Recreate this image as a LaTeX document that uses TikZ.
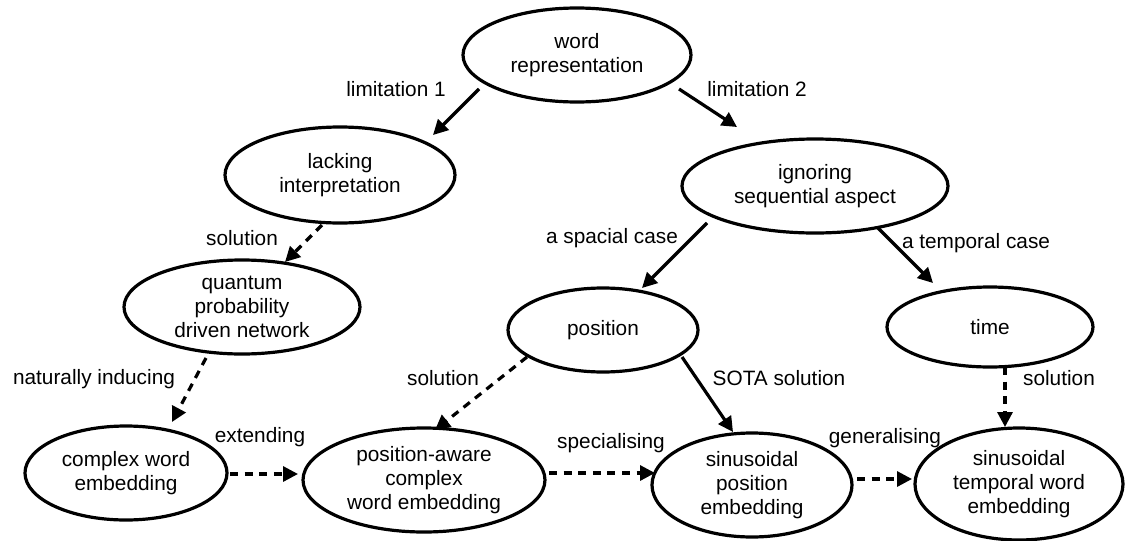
\documentclass[tikz,border=0pt]{standalone}
\usepackage{fontspec}
\setmainfont{Liberation Sans}
\usetikzlibrary{shapes.geometric,arrows.meta}
\begin{document}
\begin{tikzpicture}[x=0.5pt,y=-0.5pt,
  every node/.style={font=\fontsize{10.4}{12}\selectfont},
  ell/.style={ellipse,draw,line width=1.6pt,fill=white,inner sep=0pt,align=center},
  lbl/.style={inner sep=0pt,anchor=center},
  conn/.style={line width=1.6pt,-{Triangle[length=7.5pt,width=7.5pt]}},
  dconn/.style={conn,dash pattern=on 4pt off 3.3pt}]
\useasboundingbox (0,0) rectangle (1125,541);
% nodes (minimum width = rx pt, minimum height = ry pt since 1px = 0.5pt)
\node[ell,minimum width=114pt,minimum height=47pt] (wr) at (577,55) {word\\representation};
\node[ell,minimum width=115pt,minimum height=48pt] (li) at (340,175) {lacking\\interpretation};
\node[ell,minimum width=133pt,minimum height=47pt] (ig) at (815,186) {ignoring\\sequential aspect};
\node[ell,minimum width=118pt,minimum height=47pt] (qp) at (242,307) {quantum\\probability\\driven network};
\node[ell,minimum width=95pt,minimum height=42pt] (po) at (603,330) {position};
\node[ell,minimum width=103pt,minimum height=40pt] (ti) at (990,327) {time};
\node[ell,minimum width=101pt,minimum height=47pt] (cw) at (126,473) {complex word\\embedding};
\node[ell,minimum width=121pt,minimum height=52pt] (pa) at (424,480) {position-aware\\complex\\word embedding};
\node[ell,minimum width=100pt,minimum height=52pt] (sp) at (752,485) {sinusoidal\\position\\embedding};
\node[ell,minimum width=104pt,minimum height=56pt] (st) at (1019,484) {sinusoidal\\temporal word\\embedding};
% connectors
\draw[conn]  ([shift={(-98,34)}]wr.center) -- ([shift={(93,-40)}]li.center);
\draw[conn]  ([shift={(102,34)}]wr.center) -- ([shift={(-78,-59)}]ig.center);
\draw[dconn] ([shift={(-18,50)}]li.center) -- ([shift={(43,-45)}]qp.center);
\draw[conn]  ([shift={(-108,37)}]ig.center) -- ([shift={(39,-42)}]po.center);
\draw[conn]  ([shift={(63,42)}]ig.center) -- ([shift={(-57,-44)}]ti.center);
\draw[dconn] ([shift={(-36,51)}]qp.center) -- ([shift={(46,-51)}]cw.center);
\draw[dconn] ([shift={(-76,27)}]po.center) -- ([shift={(11,-50)}]pa.center);
\draw[conn]  ([shift={(79,27)}]po.center) -- ([shift={(-19,-53)}]sp.center);
\draw[dconn] ([shift={(15,40)}]ti.center) -- ([shift={(-14,-57)}]st.center);
\draw[dconn] ([shift={(104,1)}]cw.center) -- ([shift={(-126,-6)}]pa.center);
\draw[dconn] ([shift={(125,-7)}]pa.center) -- ([shift={(-97,-12)}]sp.center);
\draw[dconn] ([shift={(105,-6)}]sp.center) -- ([shift={(-107,-5)}]st.center);
% labels
\node[lbl] (l1) at (396,89) {limitation 1};
\node[lbl] (l2) at (757,89) {limitation 2};
\node[lbl] (l3) at (242,238) {solution};
\node[lbl] (l4) at (612,238) {a spacial case};
\node[lbl] (l5) at (976,243) {a temporal case};
\node[lbl] (l6) at (94,379) {naturally inducing};
\node[lbl] (l7) at (443,378) {solution};
\node[lbl] (l8) at (779,378) {SOTA solution};
\node[lbl] (l9) at (1059,378) {solution};
\node[lbl] (l10) at (260,437) {extending};
\node[lbl] (l11) at (611,443) {specialising};
\node[lbl] (l12) at (885,438) {generalising};
\end{tikzpicture}
\end{document}
